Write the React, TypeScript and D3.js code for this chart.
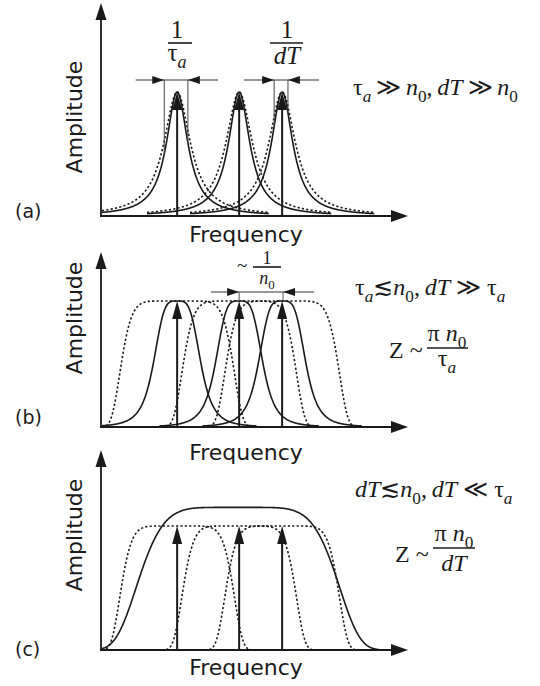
import { useRef, useEffect } from 'react';
import * as d3 from 'd3';

const WIDTH = 540;
const HEIGHT = 686;

// frequency axis in arbitrary units
const freqDomain = [0, 100];
const peakCenters = [24.8, 45, 59];

// (a) Lorentzian lines (half widths)
const aSolidWidth = 4.2;
const aDottedWidth = 5.2;
// (b) bell shaped solid lines and flat-top dotted filters
const bSolidWidth = 7.8;
const bSolidOrder = 4;
const flatWidth = 18.2;
const flatOrder = 8;
// (c) broad envelope
const envCenter = 44.6;
const envWidth = 32.2;
const envOrder = 6;
const envAmp = 1.15;

// width markers: [line start, left tip, right tip, line end] in frequency units
const markerA1 = [11.3, 20.6, 28.3, 38.1];
const markerA2 = [46.6, 56.4, 60.9, 71];
const markerB = [35.8, 45, 59.3, 69.4];
const markerAmpA = 1.097;
const markerAmpB = 1.071;

const panelLabels = ['(a)', '(b)', '(c)'];
const xLabel = 'Frequency';
const yLabel = 'Amplitude';

const panels = [
  { baseline: 216, peakTop: 92, axisTop: 3, labelY: 218, ampY: 117, freqY: 242 },
  { baseline: 427, peakTop: 301, axisTop: 252, labelY: 424, ampY: 318, freqY: 460 },
  { baseline: 650, peakTop: 526, axisTop: 450, labelY: 656, ampY: 535, freqY: 675 },
];

type Part = [string, 'i' | 'r', boolean?];

const lorentz = (w: number) => (d: number) => 1 / (1 + (d / w) ** 2);
const butter = (w: number, n: number) => (d: number) => 1 / (1 + Math.abs(d / w) ** n);
const superGauss = (w: number, n: number) => (d: number) => Math.exp(-Math.LN2 * Math.abs(d / w) ** n);

const INK = '#1a1a1a';
const SANS = '"DejaVu Sans", sans-serif';
const SERIF = '"Liberation Serif", "DejaVu Serif", serif';
const TH = '\u2009';

export default function App() {
  const svgRef = useRef<SVGSVGElement>(null);

  useEffect(() => {
    if (!svgRef.current) return;
    const svg = d3.select(svgRef.current);
    svg.selectAll('*').remove();

    const x = d3.scaleLinear().domain(freqDomain).range([101, 408]);

    const arrowUp = (g: any, px: number, y0: number, y1: number, len = 18, hw = 5, sw = 2) => {
      g.append('line').attr('x1', px).attr('x2', px).attr('y1', y0).attr('y2', y1 + len - 2)
        .attr('stroke', INK).attr('stroke-width', sw);
      g.append('path').attr('d', `M${px},${y1}L${px - hw},${y1 + len}L${px + hw},${y1 + len}Z`).attr('fill', INK);
    };
    const arrowRight = (g: any, px0: number, px1: number, y: number, len = 17, hw = 5.5, sw = 2) => {
      g.append('line').attr('x1', px0).attr('x2', px1 - len + 2).attr('y1', y).attr('y2', y)
        .attr('stroke', INK).attr('stroke-width', sw);
      g.append('path').attr('d', `M${px1},${y}L${px1 - len},${y - hw}L${px1 - len},${y + hw}Z`).attr('fill', INK);
    };
    const headH = (g: any, tip: number, y: number, dir: number, len = 12, hw = 4) => {
      g.append('path').attr('d', `M${tip},${y}L${tip - dir * len},${y - hw}L${tip - dir * len},${y + hw}Z`).attr('fill', INK);
    };

    const mathText = (g: any, px: number, py: number, size: number, parts: Part[], anchor = 'start') => {
      const t = g.append('text').attr('x', px).attr('y', py).attr('font-family', SERIF)
        .attr('font-size', size).attr('fill', INK).attr('text-anchor', anchor);
      let shift = 0;
      parts.forEach(([s, st, sub]) => {
        const target = sub ? size * 0.28 : 0;
        t.append('tspan').attr('dy', target - shift).attr('font-style', st === 'i' ? 'italic' : 'normal')
          .attr('font-size', sub ? size * 0.72 : size).attr('xml:space', 'preserve').text(s);
        shift = target;
      });
      return t;
    };
    const fraction = (g: any, cx: number, barY: number, x0: number, x1: number, size: number,
      num: Part[], den: Part[], numGap: number, denGap: number) => {
      mathText(g, cx, barY - numGap, size, num, 'middle');
      g.append('line').attr('x1', x0).attr('x2', x1).attr('y1', barY).attr('y2', barY)
        .attr('stroke', INK).attr('stroke-width', 1.6);
      mathText(g, cx, barY + denGap, size, den, 'middle');
    };

    const drawCurve = (g: any, y: any, center: number, half: number, f: (d: number) => number, amp: number, dotted: boolean) => {
      const lo = Math.max(freqDomain[0] + 0.3, center - half);
      const hi = Math.min(freqDomain[1], center + half);
      const pts = d3.range(lo, hi + 0.001, 0.2).map(v => [v, amp * f(v - center)] as [number, number]);
      const line = d3.line<[number, number]>().x(d => x(d[0])).y(d => y(d[1])).curve(d3.curveBasis);
      g.append('path').attr('d', line(pts)).attr('fill', 'none').attr('stroke', INK)
        .attr('stroke-width', 1.6).attr('stroke-dasharray', dotted ? '2.2,2.2' : null);
    };

    panels.forEach((p, i) => {
      const g = svg.append('g');
      const y = d3.scaleLinear().domain([0, 1]).range([p.baseline, p.peakTop]);

      // curves
      if (i === 0) {
        peakCenters.forEach(c => {
          drawCurve(g, y, c, 30, lorentz(aDottedWidth), 1, true);
          drawCurve(g, y, c, 30, lorentz(aSolidWidth), 1, false);
        });
      } else if (i === 1) {
        peakCenters.forEach(c => {
          drawCurve(g, y, c, 28, superGauss(flatWidth, flatOrder), 1, true);
          drawCurve(g, y, c, 26, butter(bSolidWidth, bSolidOrder), 1, false);
        });
      } else {
        peakCenters.forEach(c => drawCurve(g, y, c, 28, superGauss(flatWidth, flatOrder), 1, true));
        drawCurve(g, y, envCenter, 46, superGauss(envWidth, envOrder), envAmp, false);
      }

      // axes
      arrowUp(g, x(freqDomain[0]), p.baseline + 1, p.axisTop, 17, 5.5, 1.8);
      arrowRight(g, x(freqDomain[0]) - 1, x(freqDomain[1]), p.baseline, 17, 6, 1.8);

      // spectral lines
      peakCenters.forEach(c => arrowUp(g, x(c), p.baseline, y(1)));

      // labels
      g.append('text').attr('x', 15).attr('y', p.labelY).attr('font-family', SANS).attr('font-size', 19)
        .attr('fill', INK).text(panelLabels[i]);
      g.append('text').attr('transform', `translate(82,${p.ampY}) rotate(-90)`).attr('text-anchor', 'middle')
        .attr('font-family', SANS).attr('font-size', 22).attr('fill', INK).text(yLabel);
      g.append('text').attr('x', 246).attr('y', p.freqY).attr('text-anchor', 'middle')
        .attr('font-family', SANS).attr('font-size', 22).attr('fill', INK).text(xLabel);

      if (i === 0) {
        const my = y(markerAmpA);
        [[markerA1, 0], [markerA2, 2]].forEach(([m, k]: any) => {
          const c = peakCenters[k];
          g.append('line').attr('x1', x(m[0])).attr('x2', x(m[3])).attr('y1', my).attr('y2', my)
            .attr('stroke', '#333').attr('stroke-width', 1.1);
          [m[1], m[2]].forEach((v: number) => {
            g.append('line').attr('x1', x(v)).attr('x2', x(v)).attr('y1', my)
              .attr('y2', y(lorentz(aSolidWidth)(v - c))).attr('stroke', '#444').attr('stroke-width', 1);
          });
          headH(g, x(m[1]), my, 1);
          headH(g, x(m[2]), my, -1);
        });
        fraction(g, 177, 43, 168, 192, 25, [['1', 'r']], [['τ', 'r'], ['a', 'i', true]], 5, 18);
        fraction(g, 287, 43, 270, 303, 25, [['1', 'r']], [['dT', 'i']], 5, 21);
        mathText(g, 353, 95, 24, [['τ', 'r'], ['a', 'i', true], [`${TH}≫${TH}`, 'r'], ['n', 'i'], ['0', 'r', true],
          [`,${TH}`, 'r'], ['dT', 'i'], [`${TH}≫${TH}`, 'r'], ['n', 'i'], ['0', 'r', true]]);
      } else if (i === 1) {
        const my = y(markerAmpB);
        g.append('line').attr('x1', x(markerB[0])).attr('x2', x(markerB[3])).attr('y1', my).attr('y2', my)
          .attr('stroke', '#333').attr('stroke-width', 1.1);
        [markerB[1], markerB[2]].forEach(v => {
          g.append('line').attr('x1', x(v)).attr('x2', x(v)).attr('y1', my).attr('y2', y(1))
            .attr('stroke', '#555').attr('stroke-width', 1);
        });
        headH(g, x(markerB[1]), my, 1);
        headH(g, x(markerB[2]), my, -1);
        mathText(g, 237, 272, 19, [['~', 'r']]);
        fraction(g, 267, 267, 253, 281, 18, [['1', 'r']], [['n', 'i'], ['0', 'r', true]], 3, 17);
        mathText(g, 355, 295, 24, [['τ', 'r'], ['a', 'i', true], ['≲', 'r'], ['n', 'i'], ['0', 'r', true],
          [`,${TH}`, 'r'], ['dT', 'i'], [' ≫ ', 'r'], ['τ', 'r'], ['a', 'i', true]]);
        mathText(g, 389, 358, 24, [['Z ~', 'r']]);
        fraction(g, 447, 348, 427, 468, 24, [['π ', 'r'], ['n', 'i'], ['0', 'r', true]], [['τ', 'r'], ['a', 'i', true]], 7, 18);
      } else {
        mathText(g, 355, 497, 24, [['dT', 'i'], ['≲', 'r'], ['n', 'i'], ['0', 'r', true],
          [`,${TH}`, 'r'], ['dT', 'i'], [' ≪ ', 'r'], ['τ', 'r'], ['a', 'i', true]]);
        mathText(g, 395, 562, 24, [['Z ~', 'r']]);
        fraction(g, 454, 548, 433, 475, 24, [['π ', 'r'], ['n', 'i'], ['0', 'r', true]], [['dT', 'i']], 7, 23);
      }
    });
  }, []);

  return (
    <svg ref={svgRef} width={WIDTH} height={HEIGHT}
      style={{ position: 'absolute', left: 0, top: 0, background: '#fff' }} />
  );
}
